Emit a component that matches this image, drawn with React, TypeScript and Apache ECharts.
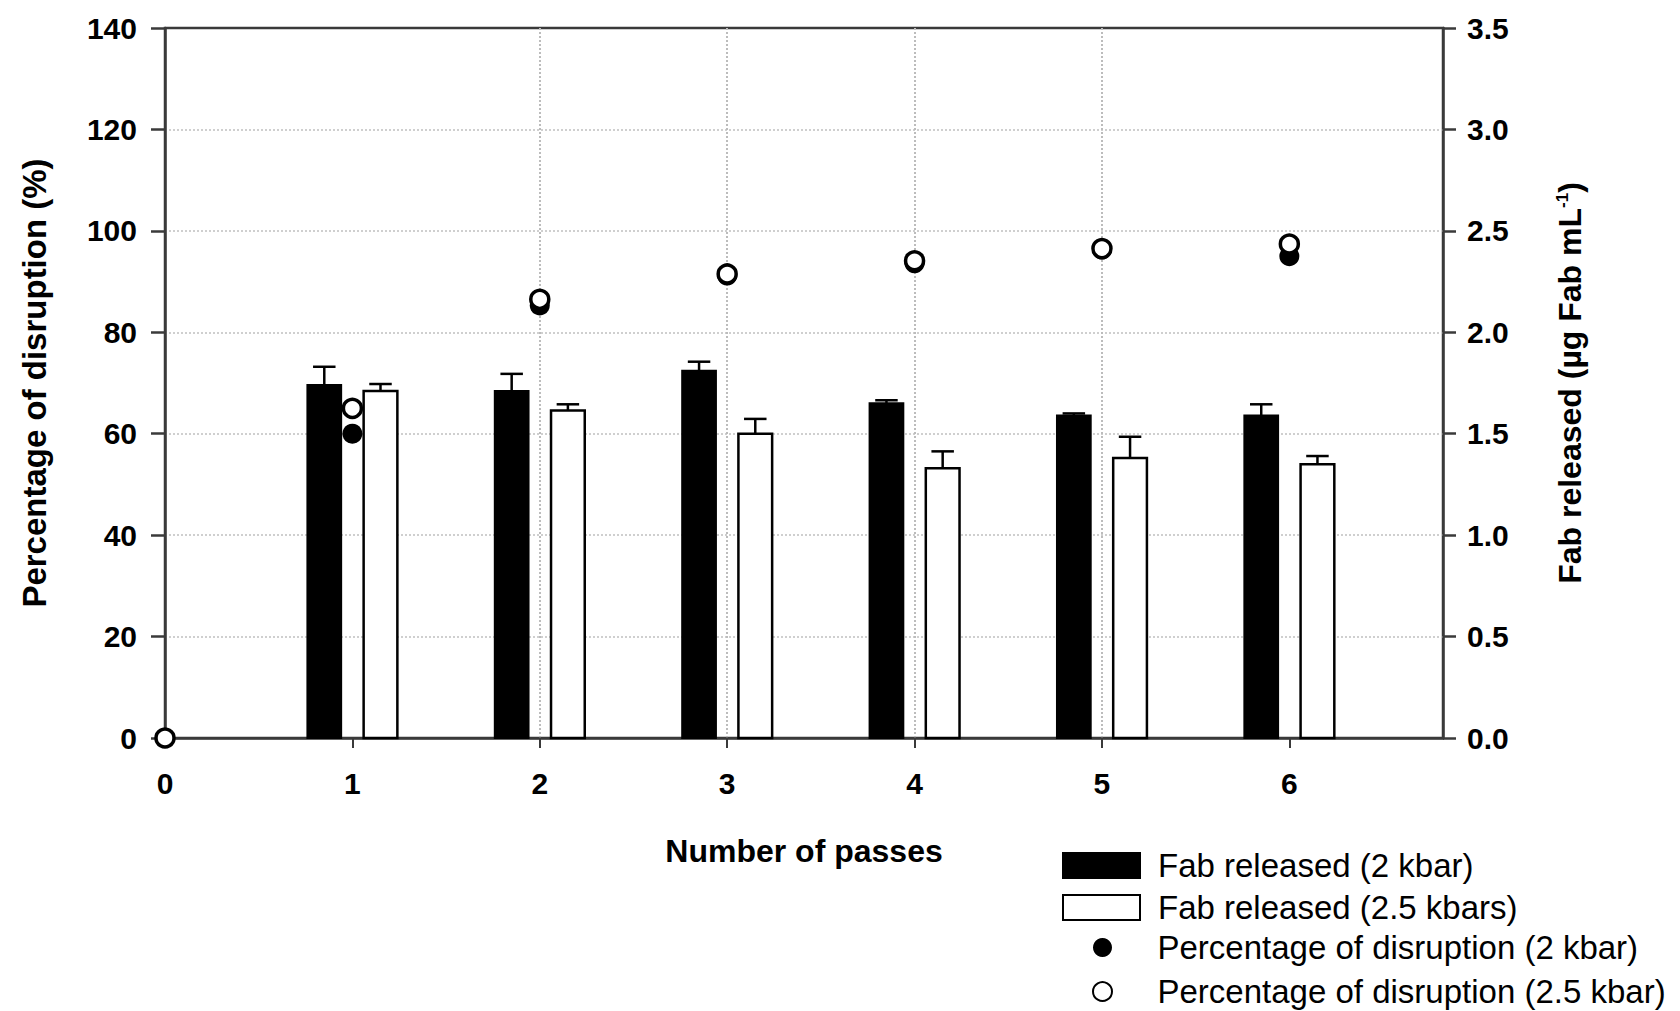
import React, { useEffect, useRef } from "react";
import * as echarts from "echarts";

// ---- data ----
const passes = [1, 2, 3, 4, 5, 6];
const fab2kbar = [1.74, 1.71, 1.81, 1.65, 1.59, 1.59];
const fab2kbarErr = [0.09, 0.085, 0.045, 0.015, 0.01, 0.055];
const fab25kbar = [1.71, 1.615, 1.5, 1.33, 1.38, 1.35];
const fab25kbarErr = [0.035, 0.03, 0.073, 0.083, 0.105, 0.04];
const disruptionPasses = [0, 1, 2, 3, 4, 5, 6];
const disruption2kbar = [0, 60.0, 85.3, 91.2, 93.6, 96.3, 95.0];
const disruption25kbar = [0, 65.0, 86.5, 91.5, 94.1, 96.5, 97.4];
const xLabelValues = [0, 1, 2, 3, 4, 5, 6];
const xTickValues = [1, 2, 3, 4, 5, 6];

const NAME_BAR_2 = "Fab released (2 kbar)";
const NAME_BAR_25 = "Fab released (2.5 kbars)";
const NAME_DOT_2 = "Percentage of disruption (2 kbar)";
const NAME_DOT_25 = "Percentage of disruption (2.5 kbar)";

const FONT = "'Liberation Sans', Arial, Helvetica, sans-serif";
const AXIS_COLOR = "#3a3a3a";
const BAR_W = 0.18;
const CAP_W = 0.12;
const BAR_OFFSET = 0.15;

function makeBarRender(offset: number, fill: string, lineW: number) {
  return (params: any, api: any) => {
    const x = api.value(0) + offset;
    const v = api.value(1);
    const e = api.value(2);
    const halfW = api.size([BAR_W, 0])[0] / 2;
    const capHalf = api.size([CAP_W, 0])[0] / 2;
    const p0 = api.coord([x, 0]);
    const p1 = api.coord([x, v]);
    const p2 = api.coord([x, v + e]);
    return {
      type: "group",
      children: [
        {
          type: "line",
          shape: { x1: p1[0], y1: p1[1], x2: p2[0], y2: p2[1] },
          style: { stroke: "#000", lineWidth: 2.5 },
        },
        {
          type: "line",
          shape: { x1: p2[0] - capHalf, y1: p2[1], x2: p2[0] + capHalf, y2: p2[1] },
          style: { stroke: "#000", lineWidth: 2.5 },
        },
        {
          type: "rect",
          shape: { x: p1[0] - halfW, y: p1[1], width: 2 * halfW, height: p0[1] - p1[1] },
          style: { fill, stroke: "#000", lineWidth: lineW },
        },
      ],
    };
  };
}

export default function App() {
  const ref = useRef<HTMLDivElement>(null);
  useEffect(() => {
    const chart = echarts.init(ref.current!, null, { renderer: "svg" });
    const option: any = {
      animation: false,
      backgroundColor: "#fff",
      textStyle: { fontFamily: FONT },
      grid: {
        left: 165,
        top: 28,
        width: 1278,
        height: 710,
        show: true,
        borderColor: AXIS_COLOR,
        borderWidth: 2.5,
        backgroundColor: "transparent",
      },
      xAxis: {
        type: "value",
        min: 0,
        max: 6.82,
        interval: 1,
        name: "Number of passes",
        nameLocation: "middle",
        nameGap: 97,
        nameTextStyle: { fontSize: 32, fontWeight: "bold", color: "#000", fontFamily: FONT },
        axisLine: { show: true, onZero: false, lineStyle: { color: AXIS_COLOR, width: 2.5 } },
        axisTick: { show: true, length: 10, customValues: xTickValues, lineStyle: { color: AXIS_COLOR, width: 2 } },
        axisLabel: {
          customValues: xLabelValues,
          margin: 30,
          fontSize: 30,
          fontWeight: "bold",
          color: "#000",
          fontFamily: FONT,
        },
        splitLine: {
          show: true,
          showMinLine: false,
          showMaxLine: false,
          lineStyle: { color: "#bcbcbc", type: "dotted", width: 2 },
        },
      },
      yAxis: [
        {
          type: "value",
          position: "left",
          min: 0,
          max: 140,
          interval: 20,
          name: "Percentage of disruption (%)",
          nameLocation: "middle",
          nameRotate: 90,
          nameGap: 114,
          nameTextStyle: { fontSize: 33, fontWeight: "bold", color: "#000", fontFamily: FONT },
          axisLine: { show: true, lineStyle: { color: AXIS_COLOR, width: 2.5 } },
          axisTick: { show: true, length: 14, lineStyle: { color: AXIS_COLOR, width: 2.5 } },
          axisLabel: { margin: 28, fontSize: 30, fontWeight: "bold", color: "#000", fontFamily: FONT },
          splitLine: {
            show: true,
            showMinLine: false,
            showMaxLine: false,
            lineStyle: { color: "#cfcfcf", type: "dotted", width: 2 },
          },
        },
        {
          type: "value",
          position: "right",
          min: 0,
          max: 3.5,
          interval: 0.5,
          name: "Fab released (µg Fab mL{sup|-1})",
          nameLocation: "middle",
          nameRotate: 90,
          nameGap: 111,
          nameTextStyle: {
            fontSize: 32,
            fontWeight: "bold",
            color: "#000",
            fontFamily: FONT,
            rich: {
              sup: { fontSize: 17, fontWeight: "bold", color: "#000", fontFamily: FONT, verticalAlign: "top", padding: [0, 0, 14, 0] },
            },
          },
          axisLine: { show: true, lineStyle: { color: AXIS_COLOR, width: 2.5 } },
          axisTick: { show: true, length: 13, lineStyle: { color: AXIS_COLOR, width: 2.5 } },
          axisLabel: {
            margin: 24,
            fontSize: 30,
            fontWeight: "bold",
            color: "#000",
            fontFamily: FONT,
            formatter: (v: number) => v.toFixed(1),
          },
          splitLine: { show: false },
        },
      ],
      legend: [
        {
          orient: "vertical",
          left: 1062,
          top: 849,
          height: 90,
          padding: 0,
          itemWidth: 77,
          itemHeight: 25,
          itemGap: 9,
          selectedMode: false,
          textStyle: { fontSize: 33, color: "#000", fontFamily: FONT, padding: [0, 0, 0, 13] },
          data: [
            { name: NAME_BAR_2, icon: "rect", itemStyle: { color: "#000", borderColor: "#000", borderWidth: 2 } },
            { name: NAME_BAR_25, icon: "rect", itemStyle: { color: "#fff", borderColor: "#000", borderWidth: 2 } },
          ],
        },
        {
          orient: "vertical",
          left: 1092,
          top: 931,
          height: 80,
          padding: 0,
          itemWidth: 78,
          itemHeight: 19,
          itemGap: 11,
          selectedMode: false,
          textStyle: { fontSize: 33, color: "#000", fontFamily: FONT, padding: [0, 0, 0, 11] },
          data: [
            { name: NAME_DOT_2, icon: "circle", itemStyle: { color: "#000", borderWidth: 0 } },
            { name: NAME_DOT_25, icon: "circle", itemStyle: { color: "#fff", borderColor: "#000", borderWidth: 2 } },
          ],
        },
      ],
      series: [
        {
          type: "custom",
          name: NAME_BAR_2,
          xAxisIndex: 0,
          yAxisIndex: 1,
          z: 2,
          renderItem: makeBarRender(-BAR_OFFSET, "#000", 2),
          encode: { x: 0, y: 1 },
          itemStyle: { color: "#000" },
          data: passes.map((p, i) => [p, fab2kbar[i], fab2kbarErr[i]]),
        },
        {
          type: "custom",
          name: NAME_BAR_25,
          xAxisIndex: 0,
          yAxisIndex: 1,
          z: 2,
          renderItem: makeBarRender(BAR_OFFSET, "#fff", 2.5),
          encode: { x: 0, y: 1 },
          itemStyle: { color: "#fff" },
          data: passes.map((p, i) => [p, fab25kbar[i], fab25kbarErr[i]]),
        },
        {
          type: "scatter",
          name: NAME_DOT_2,
          xAxisIndex: 0,
          yAxisIndex: 0,
          z: 3,
          symbol: "circle",
          symbolSize: 20,
          itemStyle: { color: "#000", opacity: 1 },
          data: disruptionPasses.map((p, i) => [p, disruption2kbar[i]]),
        },
        {
          type: "scatter",
          name: NAME_DOT_25,
          xAxisIndex: 0,
          yAxisIndex: 0,
          z: 4,
          symbol: "circle",
          symbolSize: 18,
          itemStyle: { color: "#fff", borderColor: "#000", borderWidth: 3.5, opacity: 1 },
          data: disruptionPasses.map((p, i) => [p, disruption25kbar[i]]),
        },
      ],
    };
    chart.setOption(option);
    return () => chart.dispose();
  }, []);
  return (
    <div
      ref={ref}
      style={{ position: "fixed", left: 0, top: 0, width: 1680, height: 1011, background: "#fff" }}
    />
  );
}
